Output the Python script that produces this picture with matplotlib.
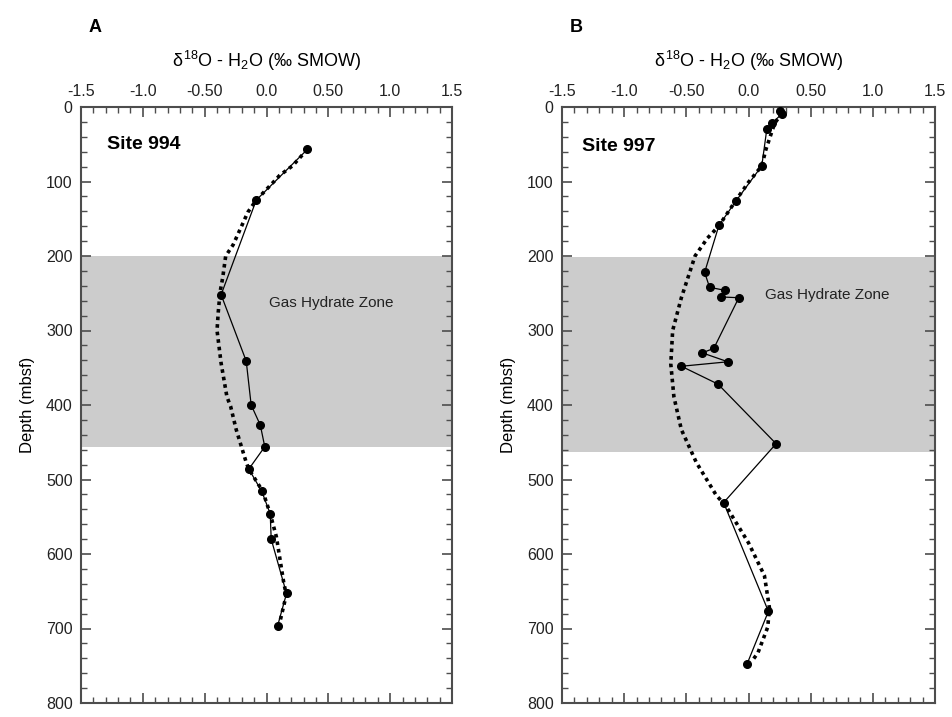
import matplotlib
matplotlib.use("Agg")
import matplotlib.pyplot as plt
from matplotlib.ticker import MultipleLocator, FixedLocator, FixedFormatter

plt.rcParams['font.family'] = ['Liberation Sans', 'DejaVu Sans']
plt.rcParams['mathtext.fontset'] = 'custom'
plt.rcParams['mathtext.rm'] = 'Liberation Sans'
plt.rcParams['mathtext.it'] = 'Liberation Sans'

# ---- Data: Site 994 ----
a_d18o = [0.33, -0.083, -0.367, -0.164, -0.124, -0.05, -0.014, -0.143, -0.038, 0.03, 0.038, 0.162, 0.089]
a_depth = [57, 125, 252, 341, 400, 427, 456, 486, 516, 546, 580, 653, 697]
a_model_x = [0.33, 0.21, 0.105, 0.078, -0.083, -0.15, -0.27, -0.33, -0.354, -0.375, -0.39, -0.40,
             -0.367, -0.32, -0.29, -0.245, -0.164, -0.143, -0.03, 0.03, 0.08, 0.138, 0.16, 0.11, 0.10]
a_model_d = [57, 79, 92, 97, 125, 141, 185, 200, 229, 248, 275, 300,
             344, 389, 402, 433, 477, 486, 516, 546, 577, 637, 655, 690, 693]
a_zone = (200, 457)

# ---- Data: Site 997 ----
b_d18o = [0.25, 0.27, 0.187, 0.147, 0.107, -0.1, -0.238, -0.353, -0.313, -0.193, -0.22, -0.078,
          -0.279, -0.372, -0.166, -0.54, -0.245, 0.222, -0.2, 0.16, -0.01]
b_depth = [5, 9, 22, 30, 79, 126, 159, 222, 242, 246, 255, 256,
           324, 330, 342, 348, 372, 452, 531, 677, 747]
b_model_x = [0.27, 0.21, 0.14, 0.107, 0.0, -0.1, -0.24, -0.33, -0.43, -0.54, -0.61, -0.625,
             -0.6, -0.54, -0.42, -0.26, -0.18, 0.0, 0.128, 0.168, 0.155, 0.075, 0.035]
b_model_d = [8, 22, 57, 79, 101, 125, 160, 176, 200, 256, 300, 345,
             389, 433, 477, 521, 536, 585, 629, 672, 698, 733, 742]
b_zone = (202, 463)

xticks = [-1.5, -1.0, -0.5, 0.0, 0.5, 1.0, 1.5]
xticklabels = ['-1.5', '-1.0', '-0.50', '0.0', '0.50', '1.0', '1.5']
yticks = [0, 100, 200, 300, 400, 500, 600, 700, 800]

W, H = 952, 717
fig = plt.figure(figsize=(W / 100, H / 100), dpi=100)

spine_col = '#4d4d4d'
top_px, bot_px = 107, 703

def panel(rect, x, d, mx, md, zone, site, letter, zone_txt_pos, site_pos):
    ax = fig.add_axes(rect)
    ax.axhspan(zone[0], zone[1], color='#cccccc', lw=0, zorder=0)
    ax.plot(mx, md, color='black', lw=2.6, ls=(0, (1.0, 1.1)), zorder=2)
    ax.plot(x, d, color='black', lw=0.9, marker='o', ms=5.5, zorder=3)
    ax.set_xlim(-1.5, 1.5)
    ax.set_ylim(800, 0)
    ax.xaxis.set_ticks_position('both')
    ax.yaxis.set_ticks_position('both')
    ax.xaxis.set_major_locator(FixedLocator(xticks))
    ax.xaxis.set_major_formatter(FixedFormatter(xticklabels))
    ax.xaxis.set_minor_locator(MultipleLocator(0.1))
    ax.yaxis.set_major_locator(FixedLocator(yticks))
    ax.yaxis.set_minor_locator(MultipleLocator(20))
    ax.tick_params(axis='x', which='both', labeltop=True, labelbottom=False)
    ax.tick_params(axis='both', which='major', direction='in', length=7, width=1.2,
                   color=spine_col, labelsize=11.5, labelcolor='#222222')
    ax.tick_params(axis='both', which='minor', direction='in', length=4, width=1.0,
                   color=spine_col)
    ax.tick_params(axis='x', which='major', pad=6)
    ax.tick_params(axis='y', which='major', pad=6)
    for s in ax.spines.values():
        s.set_color(spine_col)
        s.set_linewidth(1.5)
    ax.set_ylabel('Depth (mbsf)', fontsize=12, labelpad=8)
    ax.set_xlabel(r'$\delta^{18}$O - H$_2$O (‰ SMOW)', fontsize=13, labelpad=12)
    ax.xaxis.set_label_position('top')
    ax.text(site_pos[0], site_pos[1], site, fontsize=14, fontweight='bold', va='center', ha='left')
    ax.text(zone_txt_pos[0], zone_txt_pos[1], 'Gas Hydrate Zone', fontsize=11, va='center',
            ha='left', color='#222222')
    ax.text(0.02, 1.0 + 80 / (bot_px - top_px), letter, transform=ax.transAxes, fontsize=13,
            fontweight='bold', va='center', ha='left')
    return ax

axA = panel([81 / W, 1 - bot_px / H, 371 / W, (bot_px - top_px) / H], a_d18o, a_depth,
            a_model_x, a_model_d, a_zone, 'Site 994', 'A', (0.02, 263), (-1.29, 50))
axB = panel([562 / W, 1 - bot_px / H, 373 / W, (bot_px - top_px) / H], b_d18o, b_depth,
            b_model_x, b_model_d, b_zone, 'Site 997', 'B', (0.13, 252), (-1.34, 53))

fig.savefig('out.png', dpi=100)
